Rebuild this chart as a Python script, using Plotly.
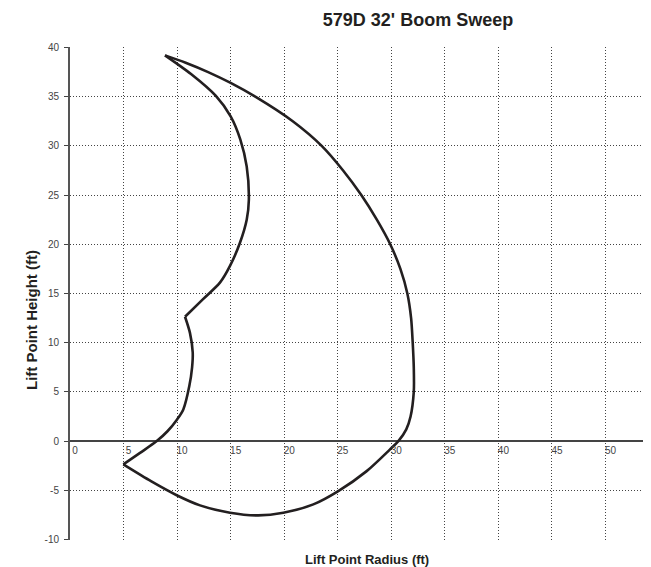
import plotly.graph_objects as go

# Outer sweep: from top tip, down the right side, along bottom to lower-left tip
outer_x = [8.87, 10.8, 12.9, 15.0, 17.3, 20.8, 23.5, 25.5, 27.2, 28.65, 29.9, 30.85, 31.5, 31.85,
           32.0, 32.1, 32.1, 31.8, 31.4, 30.66, 29.88, 27.7, 25.05, 22.72, 19.92,
           17.58, 14.94, 12.14, 9.96, 7.6, 4.98]
outer_y = [39.2, 38.45, 37.5, 36.4, 35.0, 32.5, 30.0, 27.5, 25.0, 22.5, 20.0, 17.5, 15.0, 12.5,
           10.0, 7.5, 5.0, 2.5, 1.2, 0.0, -0.84, -3.05, -5.08, -6.43, -7.28,
           -7.55, -7.28, -6.53, -5.5, -4.1, -2.37]

# Inner lower: from lower-left tip up to the cusp
inner_low_x = [4.98, 6.54, 8.1, 9.1, 10.0, 10.58, 11.14, 11.4, 11.46, 11.2, 10.74]
inner_low_y = [-2.37, -1.2, 0.0, 1.0, 2.2, 3.22, 5.59, 7.5, 9.0, 11.0, 12.64]

# Inner upper: from cusp back up to top tip
inner_up_x = [10.74, 12.4, 14.0, 14.94, 15.87, 16.5, 16.7, 16.5, 15.9, 15.0, 13.6, 11.3, 8.87]
inner_up_y = [12.64, 14.4, 16.1, 17.8, 20.16, 22.5, 24.5, 27.9, 30.66, 33.0, 35.1, 37.3, 39.2]

x_ticks = [0, 5, 10, 15, 20, 25, 30, 35, 40, 45, 50]
y_ticks = [-10, -5, 0, 5, 10, 15, 20, 25, 30, 35, 40]

title_text = "579D 32' Boom Sweep"
x_title = "Lift Point Radius (ft)"
y_title = "Lift Point Height (ft)"

FONT = "Liberation Sans Narrow, Liberation Sans, Arial, sans-serif"
LINE = "#231f20"

fig = go.Figure()
for xs, ys in [(outer_x, outer_y), (inner_low_x, inner_low_y), (inner_up_x, inner_up_y)]:
    fig.add_trace(go.Scatter(x=xs, y=ys, mode="lines",
                             line=dict(color=LINE, width=2.6, shape="spline", smoothing=0.8),
                             showlegend=False, hoverinfo="skip"))

W, H = 643, 559
L, R, T, B = 62, 0, 39, 27
PW, PH = W - L - R, H - T - B
Y0, Y1 = -10.05, 40.05

fig.update_layout(
    width=W, height=H,
    margin=dict(l=L, r=R, t=T, b=B, pad=0),
    paper_bgcolor="white", plot_bgcolor="white",
    font=dict(family=FONT, color="#333"),
    title=dict(text="<b>" + title_text + "</b>", x=410 / W, xanchor="center",
               y=1 - 12 / H, yanchor="middle", xref="container", yref="container",
               font=dict(family=FONT, size=18, color="#231f20")),
    xaxis=dict(range=[0, 54.25], tickvals=x_ticks, ticktext=[str(v) for v in x_ticks],
               anchor="free", position=(0 - Y0) / (Y1 - Y0), showline=False, zeroline=False,
               showgrid=True, gridcolor="#444", griddash="1px,2px", gridwidth=1,
               ticks="", tickfont=dict(family=FONT, size=10, color="#444"),
               ticklabelshift=5, ticklabelstandoff=2),
    yaxis=dict(range=[Y0, Y1], tickvals=y_ticks, ticktext=[str(v) for v in y_ticks],
               showline=True, linecolor="#555", linewidth=2,
               zeroline=True, zerolinecolor="#444", zerolinewidth=2,
               showgrid=True, gridcolor="#444", griddash="1px,2px", gridwidth=1,
               ticks="outside", ticklen=4, tickcolor="#444", tickwidth=1,
               tickfont=dict(family=FONT, size=10, color="#444"),
               ticklabelstandoff=3),
    annotations=[
        dict(text="<b>" + x_title + "</b>", xref="paper", yref="paper",
             x=(359 - L) / PW, y=(T + PH - 551) / PH,
             xanchor="center", yanchor="middle", showarrow=False,
             font=dict(family=FONT, size=13, color="#231f20")),
        dict(text="<b>" + y_title + "</b>", xref="paper", yref="paper",
             x=(23 - L) / PW, y=(T + PH - 312) / PH,
             xanchor="center", yanchor="middle", textangle=-90, showarrow=False,
             font=dict(family=FONT, size=15, color="#231f20")),
    ],
)

fig.write_html("out.html")
